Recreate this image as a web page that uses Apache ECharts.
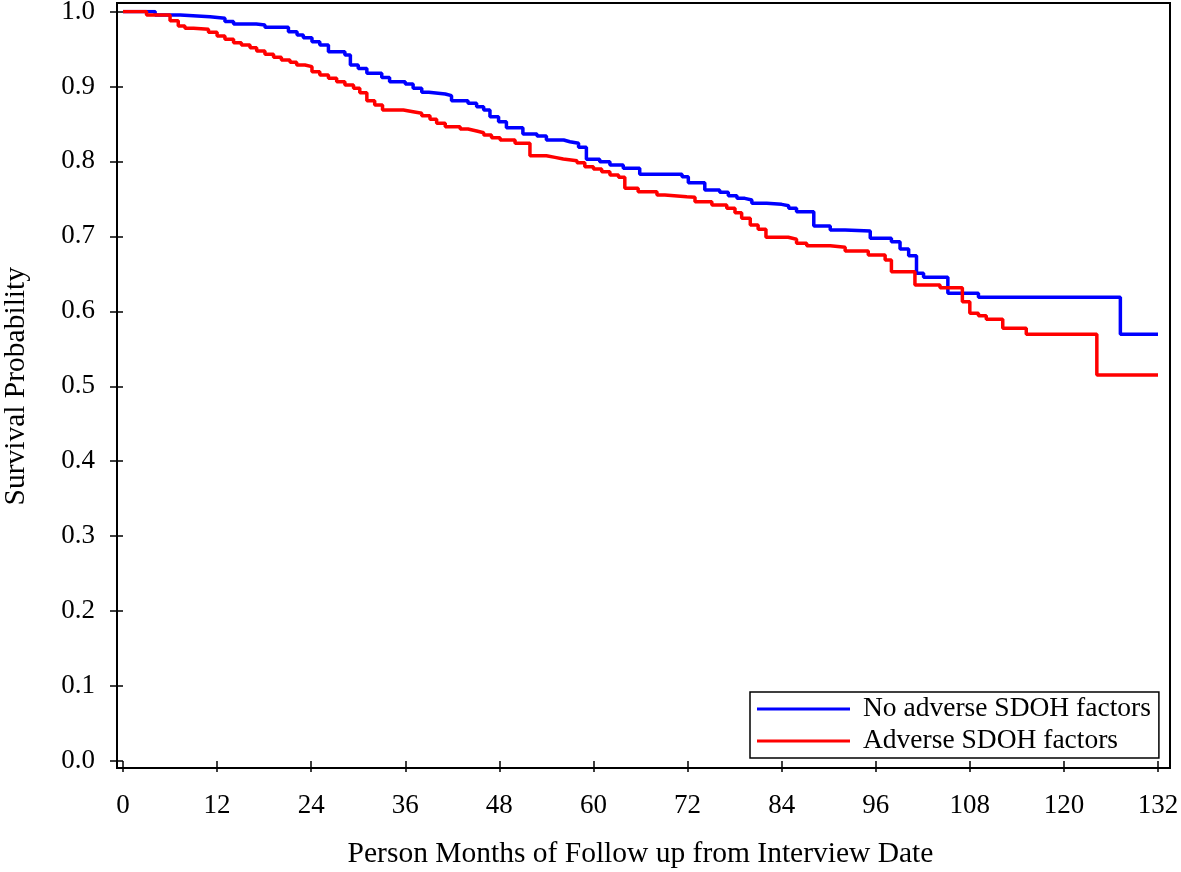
<!DOCTYPE html>
<html>
<head>
<meta charset="utf-8">
<script src="https://cdn.jsdelivr.net/npm/echarts@6/dist/echarts.min.js"></script>
<style>
html,body{margin:0;padding:0;background:#fff;}
#chart{width:1181px;height:872px;}
</style>
</head>
<body>
<div id="chart"></div>
<script>
// Series names
const seriesNames = ['No adverse SDOH factors', 'Adverse SDOH factors'];

// No adverse SDOH factors (blue): event months and survival after each step
const noAdvMonths = [0, 4.1, 7.3, 11.1, 13.0, 14.1, 17.0, 18.1, 21.1, 22.2, 23.0, 24.1, 25.1, 26.2, 28.3, 29.0, 30.0, 31.1, 33.0, 34.0, 36.0, 37.0, 38.1, 39.0, 41.1, 41.9, 44.0, 45.1, 46.0, 46.8, 47.9, 48.9, 51.0, 52.8, 54.0, 56.2, 57.0, 58.1, 59.1, 60.8, 62.1, 63.8, 65.9, 71.3, 72.1, 74.2, 76.1, 77.2, 78.3, 79.3, 80.2, 82.1, 84.0, 84.9, 85.9, 88.1, 90.2, 92.1, 95.3, 98.0, 99.1, 100.2, 101.2, 102.1, 105.2, 109.1, 127.2, 132.0];
const noAdvSurv = [1.0, 0.9953, 0.9931, 0.9909, 0.9865, 0.9833, 0.982, 0.9789, 0.973, 0.9687, 0.965, 0.9598, 0.9553, 0.9464, 0.942, 0.9286, 0.924, 0.9175, 0.912, 0.9063, 0.9033, 0.8975, 0.8922, 0.8899, 0.8877, 0.881, 0.8775, 0.873, 0.8686, 0.8597, 0.853, 0.845, 0.8366, 0.8339, 0.8286, 0.8263, 0.8241, 0.8188, 0.8028, 0.7996, 0.7952, 0.7908, 0.7828, 0.7796, 0.7716, 0.7618, 0.7587, 0.7543, 0.7507, 0.7485, 0.7441, 0.7427, 0.7409, 0.7374, 0.7329, 0.7138, 0.7085, 0.7071, 0.6974, 0.6929, 0.6831, 0.6742, 0.6507, 0.6454, 0.624, 0.6187, 0.5693, 0.5693];

// Adverse SDOH factors (red)
const advMonths = [0, 3.0, 6.0, 7.05, 7.9, 9.0, 10.9, 12.0, 13.0, 14.1, 15.1, 16.2, 17.05, 18.1, 19.2, 20.2, 21.3, 22.15, 23.2, 24.1, 25.1, 26.2, 27.25, 28.3, 29.4, 30.2, 31.1, 32.1, 33.1, 35.75, 37.0, 38.1, 39.15, 40.0, 41.1, 43.0, 44.0, 45.1, 46.0, 47.0, 48.1, 50.0, 51.9, 54.0, 55.1, 56.15, 57.9, 58.9, 60.0, 61.05, 62.1, 63.2, 64.0, 65.7, 68.1, 69.1, 71.9, 72.95, 75.1, 77.0, 78.05, 78.9, 80.0, 81.0, 82.0, 84.85, 85.9, 87.2, 90.2, 92.1, 95.05, 97.2, 98.0, 101.0, 104.2, 107.05, 108.0, 109.1, 110.1, 112.2, 115.2, 124.2, 132.0];
const advSurv = [1.0, 0.9953, 0.9878, 0.9807, 0.9776, 0.9762, 0.9722, 0.9673, 0.9629, 0.9584, 0.9553, 0.9517, 0.9473, 0.9429, 0.9389, 0.9353, 0.9322, 0.9286, 0.9264, 0.9197, 0.9153, 0.9109, 0.9063, 0.902, 0.8975, 0.8917, 0.881, 0.8753, 0.8686, 0.8663, 0.8642, 0.861, 0.8562, 0.8508, 0.8463, 0.8432, 0.8406, 0.8383, 0.8352, 0.8316, 0.8286, 0.8241, 0.8076, 0.8054, 0.8032, 0.801, 0.7983, 0.793, 0.7899, 0.7863, 0.7819, 0.7788, 0.7641, 0.7596, 0.7552, 0.7529, 0.7521, 0.7462, 0.7418, 0.7374, 0.7316, 0.7241, 0.7152, 0.7094, 0.6987, 0.6961, 0.6907, 0.6876, 0.6854, 0.6804, 0.6751, 0.6684, 0.6528, 0.6351, 0.6315, 0.6128, 0.5973, 0.5941, 0.5893, 0.5773, 0.5693, 0.515, 0.515];

// Axis settings
const xTickStep = 12, xMin = 0, xMax = 132;
const yTickStep = 0.1, yMin = 0, yMax = 1;
const xTitle = 'Person Months of Follow up from Interview Date';
const yTitle = 'Survival Probability';

const pairs = (xs, ys) => xs.map((x, i) => [x, ys[i]]);
const FONT = "'Liberation Serif', 'Times New Roman', serif";

const chart = echarts.init(document.getElementById('chart'), null, {renderer: 'canvas'});
chart.setOption({
  animation: false,
  backgroundColor: '#fff',
  grid: {left: 123, right: 23, top: 11.5, bottom: 111, containLabel: false, outerBoundsMode: 'none'},
  graphic: [{
    type: 'rect', z: 100, silent: true,
    shape: {x: 117, y: 3, width: 1053, height: 765},
    style: {fill: 'none', stroke: '#000', lineWidth: 2}
  }],
  xAxis: {
    type: 'value', min: xMin, max: xMax, interval: xTickStep, offset: 7,
    axisLine: {show: false},
    axisTick: {show: true, length: 11, lineStyle: {color: '#000', width: 1.5}},
    splitLine: {show: false},
    axisLabel: {margin: 24, color: '#000', fontSize: 27, fontFamily: FONT},
    name: xTitle, nameLocation: 'middle', nameGap: 71,
    nameTextStyle: {color: '#000', fontSize: 29.5, fontFamily: FONT}
  },
  yAxis: {
    type: 'value', min: yMin, max: yMax, interval: yTickStep, offset: 6,
    axisLine: {show: false},
    axisTick: {show: true, length: 13, lineStyle: {color: '#000', width: 1.5}},
    splitLine: {show: false},
    axisLabel: {margin: 22, color: '#000', fontSize: 27, fontFamily: FONT,
      formatter: v => v.toFixed(1)},
    name: yTitle, nameLocation: 'middle', nameGap: 86,
    nameTextStyle: {color: '#000', fontSize: 29.5, fontFamily: FONT}
  },
  legend: {
    orient: 'vertical', left: 750, top: 692,
    padding: [3, 8, 3, 7], itemGap: 4,
    itemWidth: 93, itemHeight: 3, icon: 'rect',
    borderColor: '#000', borderWidth: 1.5, backgroundColor: '#fff',
    textStyle: {color: '#000', fontSize: 27.5, fontFamily: FONT, lineHeight: 28, padding: [0, 0, 0, 8]},
    data: seriesNames
  },
  series: [
    {
      name: seriesNames[0], type: 'line', step: 'end', showSymbol: false, symbol: 'none',
      lineStyle: {color: '#0000FF', width: 3.5}, itemStyle: {color: '#0000FF'},
      data: pairs(noAdvMonths, noAdvSurv)
    },
    {
      name: seriesNames[1], type: 'line', step: 'end', showSymbol: false, symbol: 'none',
      lineStyle: {color: '#FF0000', width: 3.5}, itemStyle: {color: '#FF0000'},
      data: pairs(advMonths, advSurv)
    }
  ]
});
</script>
</body>
</html>
